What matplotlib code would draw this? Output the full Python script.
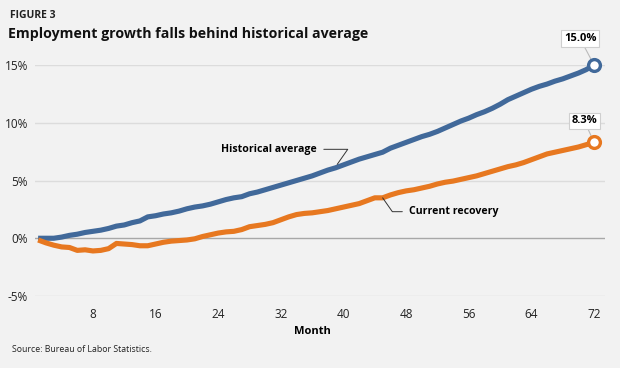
import matplotlib.pyplot as plt

months = list(range(1, 73))
historical = [0.0, 0.0, 0.0, 0.1, 0.25, 0.35, 0.5, 0.6, 0.7, 0.85,
              1.05, 1.15, 1.35, 1.5, 1.85, 1.95, 2.1, 2.2, 2.35, 2.55,
              2.7, 2.8, 2.95, 3.15, 3.35, 3.5, 3.6, 3.85, 4.0, 4.2,
              4.4, 4.6, 4.8, 5.0, 5.2, 5.4, 5.65, 5.9, 6.1, 6.35,
              6.6, 6.85, 7.05, 7.25, 7.45, 7.8, 8.05, 8.3, 8.55, 8.8,
              9.0, 9.25, 9.55, 9.85, 10.15, 10.4, 10.7, 10.95, 11.25, 11.6,
              12.0, 12.3, 12.6, 12.9, 13.15, 13.35, 13.6, 13.8, 14.05, 14.3,
              14.6, 15.0]
current = [-0.15, -0.4, -0.6, -0.75, -0.8, -1.05, -1.0, -1.1, -1.05, -0.9,
           -0.45, -0.5, -0.55, -0.65, -0.65, -0.5, -0.35, -0.25, -0.2, -0.15,
           -0.05, 0.15, 0.3, 0.45, 0.55, 0.6, 0.75, 1.0, 1.1, 1.2,
           1.35, 1.6, 1.85, 2.05, 2.15, 2.2, 2.3, 2.4, 2.55, 2.7,
           2.85, 3.0, 3.25, 3.5, 3.5, 3.75, 3.95, 4.1, 4.2, 4.35,
           4.5, 4.7, 4.85, 4.95, 5.1, 5.25, 5.4, 5.6, 5.8, 6.0,
           6.2, 6.35, 6.55, 6.8, 7.05, 7.3, 7.45, 7.6, 7.75, 7.9,
           8.1, 8.3]
x_ticks = [8, 16, 24, 32, 40, 48, 56, 64, 72]
y_ticks = [-5, 0, 5, 10, 15]

BG = '#f2f2f2'
BLUE = '#41699a'
ORANGE = '#e77820'
FONT = ['Open Sans', 'DejaVu Sans']
plt.rcParams['font.family'] = FONT

fig = plt.figure(figsize=(6.2, 3.68), dpi=100, facecolor=BG)
ax = fig.add_axes([35/620, 1 - 296/368, 570/620, 231/368], facecolor=BG)

for v in y_ticks:
    if v == 0:
        ax.axhline(v, color='#a8a8a8', lw=1.0, zorder=1)
    else:
        ax.axhline(v, color='#dcdcdc', lw=1.0, zorder=1)

ax.plot(months, historical, color=BLUE, lw=3.7, solid_capstyle='butt', zorder=3)
ax.plot(months, current, color=ORANGE, lw=3.7, solid_capstyle='butt', zorder=3)
ax.plot(months[-1], historical[-1], 'o', ms=8.5, mfc='white', mec=BLUE, mew=2.4, zorder=4, clip_on=False)
ax.plot(months[-1], current[-1], 'o', ms=8.5, mfc='white', mec=ORANGE, mew=2.4, zorder=4, clip_on=False)

ax.set_xlim(0.6, 73.4)
ax.set_ylim(-5, 15)
for s in ax.spines.values():
    s.set_visible(False)
ax.set_xticks(x_ticks)
ax.set_yticks(y_ticks)
ax.set_yticklabels([f'{v}%' for v in y_ticks])
ax.tick_params(length=0, labelsize=8.5, colors='#222222')
ax.tick_params(axis='x', pad=9)
ax.tick_params(axis='y', pad=5)
ax.set_xlabel('Month', fontsize=8, fontweight='bold', labelpad=8)
ax.xaxis.set_label_coords(0.486, -0.13)

box = dict(boxstyle='square,pad=0.25', fc='white', ec='#cfcfcf', lw=0.8)
ax.annotate(f'{historical[-1]:.1f}%', xy=(months[-1], historical[-1]), xytext=(-10, 19),
            textcoords='offset points', ha='center', va='center', fontsize=8, fontweight='bold',
            bbox=box, arrowprops=dict(arrowstyle='-', color='#bbbbbb', lw=0.8, shrinkA=0, shrinkB=4),
            annotation_clip=False)
ax.annotate(f'{current[-1]:.1f}%', xy=(months[-1], current[-1]), xytext=(-7, 15.5),
            textcoords='offset points', ha='center', va='center', fontsize=8, fontweight='bold',
            bbox=box, arrowprops=dict(arrowstyle='-', color='#bbbbbb', lw=0.8, shrinkA=0, shrinkB=4),
            annotation_clip=False)

ax.annotate('Historical average', xy=(39.2, 6.4), xytext=(36.6, 7.7), ha='right', va='center',
            fontsize=7.6, fontweight='bold',
            arrowprops=dict(arrowstyle='-', color='#333333', lw=0.7,
                            connectionstyle='angle,angleA=0,angleB=55,rad=0', shrinkA=3, shrinkB=0))
ax.annotate('Current recovery', xy=(45.0, 3.5), xytext=(48.4, 2.3), ha='left', va='center',
            fontsize=7.6, fontweight='bold',
            arrowprops=dict(arrowstyle='-', color='#333333', lw=0.7,
                            connectionstyle='angle,angleA=180,angleB=-55,rad=0', shrinkA=3, shrinkB=0))

fig.text(10/620, 1 - 15/368, 'FIGURE 3', fontsize=7.5, fontweight='bold', color='#222222', va='center')
fig.text(8/620, 1 - 34/368, 'Employment growth falls behind historical average', fontsize=10.2,
         fontweight='bold', color='#111111', va='center')
fig.text(12/620, 1 - 350/368, 'Source: Bureau of Labor Statistics.', fontsize=6.3, color='#222222', va='center')

fig.savefig('out.png', dpi=100, facecolor=BG)
